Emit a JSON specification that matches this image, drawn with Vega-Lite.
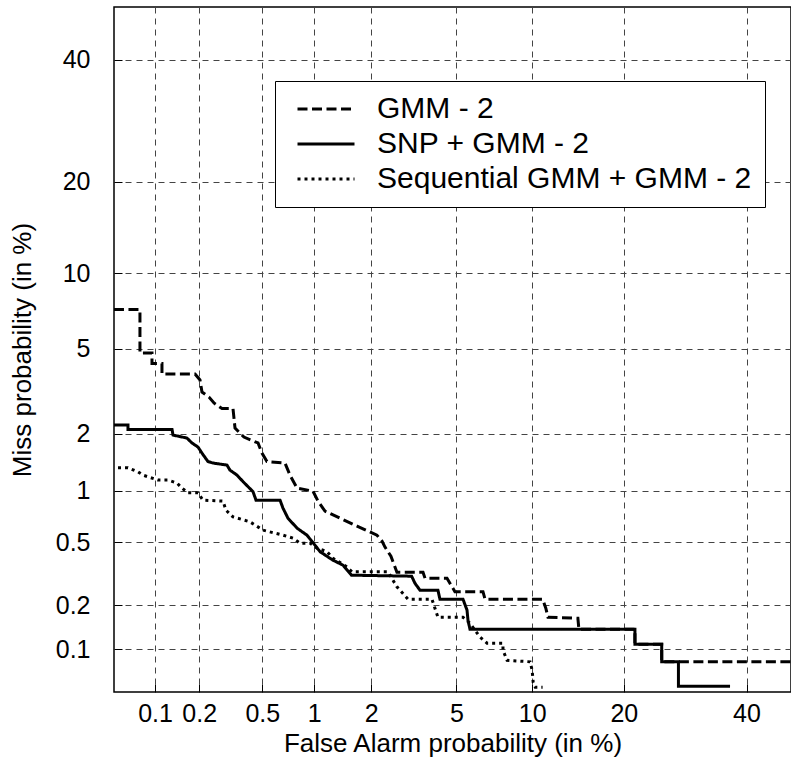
{
  "$schema": "https://vega.github.io/schema/vega-lite/v6.json",
  "autosize": {"type": "none"},
  "padding": {"left": 114, "top": 7, "right": 0, "bottom": 69},
  "width": 677,
  "height": 685,
  "background": "white",
  "data": {"values": [
    {"s": "GMM - 2", "i": 0, "fa": 0.0506, "miss": 7.283},
    {"s": "GMM - 2", "i": 1, "fa": 0.0782, "miss": 7.283},
    {"s": "GMM - 2", "i": 2, "fa": 0.0782, "miss": 4.802},
    {"s": "GMM - 2", "i": 3, "fa": 0.0952, "miss": 4.802},
    {"s": "GMM - 2", "i": 4, "fa": 0.0952, "miss": 4.318},
    {"s": "GMM - 2", "i": 5, "fa": 0.1118, "miss": 4.318},
    {"s": "GMM - 2", "i": 6, "fa": 0.1118, "miss": 3.873},
    {"s": "GMM - 2", "i": 7, "fa": 0.1876, "miss": 3.873},
    {"s": "GMM - 2", "i": 8, "fa": 0.2023, "miss": 3.64},
    {"s": "GMM - 2", "i": 9, "fa": 0.2085, "miss": 3.2},
    {"s": "GMM - 2", "i": 10, "fa": 0.2316, "miss": 3.032},
    {"s": "GMM - 2", "i": 11, "fa": 0.2497, "miss": 2.84},
    {"s": "GMM - 2", "i": 12, "fa": 0.2811, "miss": 2.67},
    {"s": "GMM - 2", "i": 13, "fa": 0.3301, "miss": 2.67},
    {"s": "GMM - 2", "i": 14, "fa": 0.3399, "miss": 2.141},
    {"s": "GMM - 2", "i": 15, "fa": 0.3864, "miss": 1.928},
    {"s": "GMM - 2", "i": 16, "fa": 0.4712, "miss": 1.799},
    {"s": "GMM - 2", "i": 17, "fa": 0.4979, "miss": 1.594},
    {"s": "GMM - 2", "i": 18, "fa": 0.5333, "miss": 1.439},
    {"s": "GMM - 2", "i": 19, "fa": 0.6811, "miss": 1.413},
    {"s": "GMM - 2", "i": 20, "fa": 0.7281, "miss": 1.217},
    {"s": "GMM - 2", "i": 21, "fa": 0.7992, "miss": 1.033},
    {"s": "GMM - 2", "i": 22, "fa": 0.9829, "miss": 0.9935},
    {"s": "GMM - 2", "i": 23, "fa": 1.0483, "miss": 0.8731},
    {"s": "GMM - 2", "i": 24, "fa": 1.1448, "miss": 0.7653},
    {"s": "GMM - 2", "i": 25, "fa": 1.3795, "miss": 0.697},
    {"s": "GMM - 2", "i": 26, "fa": 1.6937, "miss": 0.6263},
    {"s": "GMM - 2", "i": 27, "fa": 2.1389, "miss": 0.5533},
    {"s": "GMM - 2", "i": 28, "fa": 2.2665, "miss": 0.5093},
    {"s": "GMM - 2", "i": 29, "fa": 2.3444, "miss": 0.4688},
    {"s": "GMM - 2", "i": 30, "fa": 2.5069, "miss": 0.4124},
    {"s": "GMM - 2", "i": 31, "fa": 2.6804, "miss": 0.3278},
    {"s": "GMM - 2", "i": 32, "fa": 3.554, "miss": 0.3278},
    {"s": "GMM - 2", "i": 33, "fa": 3.63, "miss": 0.3002},
    {"s": "GMM - 2", "i": 34, "fa": 4.552, "miss": 0.3002},
    {"s": "GMM - 2", "i": 35, "fa": 4.929, "miss": 0.2458},
    {"s": "GMM - 2", "i": 36, "fa": 6.459, "miss": 0.2458},
    {"s": "GMM - 2", "i": 37, "fa": 6.583, "miss": 0.2195},
    {"s": "GMM - 2", "i": 38, "fa": 10.91, "miss": 0.2195},
    {"s": "GMM - 2", "i": 39, "fa": 11.2, "miss": 0.1915},
    {"s": "GMM - 2", "i": 40, "fa": 11.4, "miss": 0.1666},
    {"s": "GMM - 2", "i": 41, "fa": 14.41, "miss": 0.164},
    {"s": "GMM - 2", "i": 42, "fa": 14.52, "miss": 0.1382},
    {"s": "GMM - 2", "i": 43, "fa": 21.52, "miss": 0.1382},
    {"s": "GMM - 2", "i": 44, "fa": 21.52, "miss": 0.1087},
    {"s": "GMM - 2", "i": 45, "fa": 25.46, "miss": 0.1087},
    {"s": "GMM - 2", "i": 46, "fa": 25.46, "miss": 0.0817},
    {"s": "GMM - 2", "i": 47, "fa": 48.4, "miss": 0.0817},

    {"s": "SNP + GMM - 2", "i": 0, "fa": 0.0506, "miss": 2.217},
    {"s": "SNP + GMM - 2", "i": 1, "fa": 0.0641, "miss": 2.217},
    {"s": "SNP + GMM - 2", "i": 2, "fa": 0.0641, "miss": 2.109},
    {"s": "SNP + GMM - 2", "i": 3, "fa": 0.1312, "miss": 2.109},
    {"s": "SNP + GMM - 2", "i": 4, "fa": 0.1333, "miss": 1.974},
    {"s": "SNP + GMM - 2", "i": 5, "fa": 0.1657, "miss": 1.906},
    {"s": "SNP + GMM - 2", "i": 6, "fa": 0.179, "miss": 1.799},
    {"s": "SNP + GMM - 2", "i": 7, "fa": 0.1963, "miss": 1.714},
    {"s": "SNP + GMM - 2", "i": 8, "fa": 0.2085, "miss": 1.594},
    {"s": "SNP + GMM - 2", "i": 9, "fa": 0.2281, "miss": 1.439},
    {"s": "SNP + GMM - 2", "i": 10, "fa": 0.246, "miss": 1.413},
    {"s": "SNP + GMM - 2", "i": 11, "fa": 0.3024, "miss": 1.378},
    {"s": "SNP + GMM - 2", "i": 12, "fa": 0.3159, "miss": 1.295},
    {"s": "SNP + GMM - 2", "i": 13, "fa": 0.3499, "miss": 1.217},
    {"s": "SNP + GMM - 2", "i": 14, "fa": 0.381, "miss": 1.122},
    {"s": "SNP + GMM - 2", "i": 15, "fa": 0.4391, "miss": 0.987},
    {"s": "SNP + GMM - 2", "i": 16, "fa": 0.4581, "miss": 0.8845},
    {"s": "SNP + GMM - 2", "i": 17, "fa": 0.6374, "miss": 0.8845},
    {"s": "SNP + GMM - 2", "i": 18, "fa": 0.6632, "miss": 0.7968},
    {"s": "SNP + GMM - 2", "i": 19, "fa": 0.7089, "miss": 0.697},
    {"s": "SNP + GMM - 2", "i": 20, "fa": 0.7992, "miss": 0.6095},
    {"s": "SNP + GMM - 2", "i": 21, "fa": 0.9098, "miss": 0.5533},
    {"s": "SNP + GMM - 2", "i": 22, "fa": 1.0085, "miss": 0.4819},
    {"s": "SNP + GMM - 2", "i": 23, "fa": 1.0757, "miss": 0.4396},
    {"s": "SNP + GMM - 2", "i": 24, "fa": 1.2644, "miss": 0.3896},
    {"s": "SNP + GMM - 2", "i": 25, "fa": 1.431, "miss": 0.3629},
    {"s": "SNP + GMM - 2", "i": 26, "fa": 1.5853, "miss": 0.3137},
    {"s": "SNP + GMM - 2", "i": 27, "fa": 3.148, "miss": 0.3091},
    {"s": "SNP + GMM - 2", "i": 28, "fa": 3.261, "miss": 0.2789},
    {"s": "SNP + GMM - 2", "i": 29, "fa": 3.441, "miss": 0.2515},
    {"s": "SNP + GMM - 2", "i": 30, "fa": 4.151, "miss": 0.2515},
    {"s": "SNP + GMM - 2", "i": 31, "fa": 4.238, "miss": 0.2195},
    {"s": "SNP + GMM - 2", "i": 32, "fa": 5.336, "miss": 0.2195},
    {"s": "SNP + GMM - 2", "i": 33, "fa": 5.548, "miss": 0.1858},
    {"s": "SNP + GMM - 2", "i": 34, "fa": 5.6, "miss": 0.159},
    {"s": "SNP + GMM - 2", "i": 35, "fa": 5.708, "miss": 0.1382},
    {"s": "SNP + GMM - 2", "i": 36, "fa": 21.52, "miss": 0.1382},
    {"s": "SNP + GMM - 2", "i": 37, "fa": 21.52, "miss": 0.1087},
    {"s": "SNP + GMM - 2", "i": 38, "fa": 25.46, "miss": 0.1087},
    {"s": "SNP + GMM - 2", "i": 39, "fa": 25.46, "miss": 0.0817},
    {"s": "SNP + GMM - 2", "i": 40, "fa": 28.1, "miss": 0.0817},
    {"s": "SNP + GMM - 2", "i": 41, "fa": 28.1, "miss": 0.0542},
    {"s": "SNP + GMM - 2", "i": 42, "fa": 36.98, "miss": 0.0542},

    {"s": "Sequential GMM + GMM - 2", "i": 0, "fa": 0.0542, "miss": 1.333},
    {"s": "Sequential GMM + GMM - 2", "i": 1, "fa": 0.0641, "miss": 1.333},
    {"s": "Sequential GMM + GMM - 2", "i": 2, "fa": 0.0757, "miss": 1.268},
    {"s": "Sequential GMM + GMM - 2", "i": 3, "fa": 0.0822, "miss": 1.217},
    {"s": "Sequential GMM + GMM - 2", "i": 4, "fa": 0.1049, "miss": 1.143},
    {"s": "Sequential GMM + GMM - 2", "i": 5, "fa": 0.1231, "miss": 1.143},
    {"s": "Sequential GMM + GMM - 2", "i": 6, "fa": 0.1418, "miss": 1.101},
    {"s": "Sequential GMM + GMM - 2", "i": 7, "fa": 0.1533, "miss": 1.033},
    {"s": "Sequential GMM + GMM - 2", "i": 8, "fa": 0.1683, "miss": 0.9719},
    {"s": "Sequential GMM + GMM - 2", "i": 9, "fa": 0.1963, "miss": 0.9719},
    {"s": "Sequential GMM + GMM - 2", "i": 10, "fa": 0.2116, "miss": 0.8845},
    {"s": "Sequential GMM + GMM - 2", "i": 11, "fa": 0.2852, "miss": 0.8731},
    {"s": "Sequential GMM + GMM - 2", "i": 12, "fa": 0.298, "miss": 0.7758},
    {"s": "Sequential GMM + GMM - 2", "i": 13, "fa": 0.3301, "miss": 0.7093},
    {"s": "Sequential GMM + GMM - 2", "i": 14, "fa": 0.4208, "miss": 0.6634},
    {"s": "Sequential GMM + GMM - 2", "i": 15, "fa": 0.5048, "miss": 0.5929},
    {"s": "Sequential GMM + GMM - 2", "i": 16, "fa": 0.6632, "miss": 0.5533},
    {"s": "Sequential GMM + GMM - 2", "i": 17, "fa": 0.7577, "miss": 0.5308},
    {"s": "Sequential GMM + GMM - 2", "i": 18, "fa": 0.8315, "miss": 0.4955},
    {"s": "Sequential GMM + GMM - 2", "i": 19, "fa": 0.9456, "miss": 0.4955},
    {"s": "Sequential GMM + GMM - 2", "i": 20, "fa": 1.0349, "miss": 0.4622},
    {"s": "Sequential GMM + GMM - 2", "i": 21, "fa": 1.1737, "miss": 0.4396},
    {"s": "Sequential GMM + GMM - 2", "i": 22, "fa": 1.2644, "miss": 0.4009},
    {"s": "Sequential GMM + GMM - 2", "i": 23, "fa": 1.5016, "miss": 0.3541},
    {"s": "Sequential GMM + GMM - 2", "i": 24, "fa": 1.5947, "miss": 0.3293},
    {"s": "Sequential GMM + GMM - 2", "i": 25, "fa": 2.4243, "miss": 0.3293},
    {"s": "Sequential GMM + GMM - 2", "i": 26, "fa": 2.6804, "miss": 0.2641},
    {"s": "Sequential GMM + GMM - 2", "i": 27, "fa": 3.025, "miss": 0.2195},
    {"s": "Sequential GMM + GMM - 2", "i": 28, "fa": 3.902, "miss": 0.2195},
    {"s": "Sequential GMM + GMM - 2", "i": 29, "fa": 4.025, "miss": 0.1915},
    {"s": "Sequential GMM + GMM - 2", "i": 30, "fa": 4.151, "miss": 0.1666},
    {"s": "Sequential GMM + GMM - 2", "i": 31, "fa": 5.336, "miss": 0.1666},
    {"s": "Sequential GMM + GMM - 2", "i": 32, "fa": 5.708, "miss": 0.1517},
    {"s": "Sequential GMM + GMM - 2", "i": 33, "fa": 6.277, "miss": 0.1222},
    {"s": "Sequential GMM + GMM - 2", "i": 34, "fa": 6.709, "miss": 0.1105},
    {"s": "Sequential GMM + GMM - 2", "i": 35, "fa": 7.76, "miss": 0.1105},
    {"s": "Sequential GMM + GMM - 2", "i": 36, "fa": 7.76, "miss": 0.0987},
    {"s": "Sequential GMM + GMM - 2", "i": 37, "fa": 8.048, "miss": 0.0838},
    {"s": "Sequential GMM + GMM - 2", "i": 38, "fa": 9.829, "miss": 0.0817},
    {"s": "Sequential GMM + GMM - 2", "i": 39, "fa": 10.0, "miss": 0.0711},
    {"s": "Sequential GMM + GMM - 2", "i": 40, "fa": 10.09, "miss": 0.058},
    {"s": "Sequential GMM + GMM - 2", "i": 41, "fa": 10.27, "miss": 0.0533},
    {"s": "Sequential GMM + GMM - 2", "i": 42, "fa": 10.91, "miss": 0.0533}
  ]},
  "transform": [
    {"calculate": "quantileNormal(datum.fa / 100)", "as": "zfa"},
    {"calculate": "quantileNormal(datum.miss / 100)", "as": "zmiss"}
  ],
  "mark": {"type": "line", "stroke": "black", "strokeWidth": 3, "clip": true, "interpolate": "linear"},
  "encoding": {
    "x": {
      "field": "zfa", "type": "quantitative",
      "scale": {"domain": [-3.287, -0.04], "nice": false, "zero": false},
      "axis": {
        "title": "False Alarm probability (in %)",
        "values": [-3.090232, -2.878162, -2.575829, -2.326348, -2.053749, -1.644854, -1.281552, -0.841621, -0.253347],
        "labelExpr": "format(cumulativeNormal(datum.value) * 100, '.2~r')",
        "labelPadding": 17,
        "titlePadding": 4
      }
    },
    "y": {
      "field": "zmiss", "type": "quantitative",
      "scale": {"domain": [-3.295, 0], "nice": false, "zero": false},
      "axis": {
        "title": "Miss probability (in %)",
        "values": [-3.090232, -2.878162, -2.575829, -2.326348, -2.053749, -1.644854, -1.281552, -0.841621, -0.253347],
        "labelExpr": "format(cumulativeNormal(datum.value) * 100, '.2~r')",
        "labelPadding": 32,
        "titlePadding": 20
      }
    },
    "order": {"field": "i", "type": "quantitative"},
    "strokeDash": {
      "field": "s", "type": "nominal",
      "scale": {
        "domain": ["GMM - 2", "SNP + GMM - 2", "Sequential GMM + GMM - 2"],
        "range": [[10, 4.5], [1, 0], [3, 4]]
      },
      "legend": {
        "title": null,
        "orient": "none",
        "legendX": 161,
        "legendY": 74,
        "symbolType": "stroke",
        "symbolSize": 3249,
        "symbolStrokeWidth": 3,
        "symbolStrokeColor": "black",
        "labelFontSize": 30,
        "labelColor": "black",
        "labelLimit": 0,
        "labelOffset": 21,
        "symbolOffset": 8,
        "padding": 13,
        "strokeColor": "black",
        "fillColor": "white",
        "clipHeight": 30,
        "rowPadding": 5
      }
    }
  },
  "config": {
    "font": "Liberation Sans",
    "view": {"stroke": "black", "strokeWidth": 1.5},
    "axis": {
      "grid": true,
      "gridDash": [6, 5],
      "gridColor": "#444444",
      "gridWidth": 1,
      "gridOpacity": 1,
      "domain": false,
      "ticks": true,
      "tickSize": -8,
      "tickColor": "black",
      "tickWidth": 1,
      "labelFontSize": 25,
      "labelColor": "black",
      "labelFont": "Liberation Sans",
      "labelFlush": false,
      "labelOverlap": false,
      "titleFontSize": 26,
      "titleFontWeight": "normal",
      "titleColor": "black",
      "titleFont": "Liberation Sans"
    }
  }
}
